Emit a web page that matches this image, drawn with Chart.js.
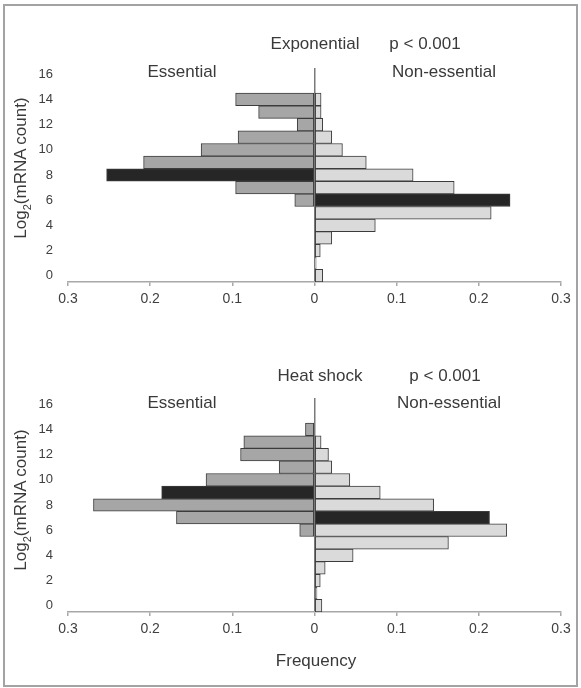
<!DOCTYPE html>
<html>
<head>
<meta charset="utf-8">
<script src="https://cdn.jsdelivr.net/npm/chart.js@4/dist/chart.umd.min.js"></script>
<style>
  body { margin: 0; background: #fff; font-family: "Liberation Sans", Arial, sans-serif; color: #3a3a3a; }
  #frame { position: absolute; left: 3px; top: 4px; width: 571px; height: 679px; border: 2px solid #a3a3a3; }
  canvas { position: absolute; left: 0; }
  .lbl { position: absolute; font-size: 17px; white-space: nowrap; transform: translate(-50%, -50%); }
  .ytitle { position: absolute; font-size: 17px; white-space: nowrap; transform: translate(-50%, -50%) rotate(-90deg); }
  .ytitle sub { font-size: 11px; }
</style>
</head>
<body>
<div id="frame"></div>
<canvas id="expChart" width="581" height="330" style="top:0"></canvas>
<canvas id="hsChart" width="581" height="330" style="top:330px"></canvas>

<div class="lbl" style="left:315px;top:44px">Exponential</div>
<div class="lbl" style="left:425px;top:44px">p &lt; 0.001</div>
<div class="lbl" style="left:182px;top:72px">Essential</div>
<div class="lbl" style="left:444px;top:72px">Non-essential</div>
<div class="ytitle" style="left:22px;top:168px">Log<sub>2</sub>(mRNA count)</div>

<div class="lbl" style="left:320px;top:376px">Heat shock</div>
<div class="lbl" style="left:445px;top:376px">p &lt; 0.001</div>
<div class="lbl" style="left:182px;top:403px">Essential</div>
<div class="lbl" style="left:449px;top:403px">Non-essential</div>
<div class="ytitle" style="left:22px;top:500px">Log<sub>2</sub>(mRNA count)</div>

<div class="lbl" style="left:316px;top:661px">Frequency</div>

<script>
// log2(mRNA count) bins, 0 at the bottom
const bins = ["0","1","2","3","4","5","6","7","8","9","10","11","12","13","14","15","16"];

// exponential growth: frequency per bin
const expEssential    = [null, null, null, null, null, null, 0.024, 0.096, 0.253, 0.208, 0.138, 0.093, 0.021, 0.068, 0.096, null, null];
const expNonEssential = [0.010, 0.002, 0.007, 0.021, 0.074, 0.215, 0.238, 0.170, 0.120, 0.063, 0.034, 0.021, 0.010, 0.008, 0.008, null, null];
const expEssentialMid = 8;
const expNonEssentialMid = 6;

// heat shock: frequency per bin
const hsEssential    = [null, null, null, null, null, null, 0.018, 0.168, 0.269, 0.186, 0.132, 0.043, 0.090, 0.086, 0.011, null, null];
const hsNonEssential = [0.009, 0.003, 0.007, 0.013, 0.047, 0.163, 0.234, 0.213, 0.145, 0.080, 0.043, 0.021, 0.017, 0.008, null, null, null];
const hsEssentialMid = 9;
const hsNonEssentialMid = 7;

const freqMin = -0.3;
const freqMax = 0.3;
const freqStep = 0.1;

function barColors(values, mid, fill) {
  return values.map(function (v, i) { return i === mid ? "#262626" : fill; });
}

function makeChart(id, essential, nonEssential, essMid, nonMid) {
  const ctx = document.getElementById(id).getContext("2d");
  return new Chart(ctx, {
    type: "bar",
    data: {
      labels: bins,
      datasets: [
        {
          label: "Essential",
          data: essential.map(function (v) { return v === null ? null : -v; }),
          backgroundColor: barColors(essential, essMid, "#a6a6a6"),
          borderColor: "#3c3c3c",
          borderWidth: 1,
          borderSkipped: false,
        },
        {
          label: "Non-essential",
          data: nonEssential,
          backgroundColor: barColors(nonEssential, nonMid, "#dadada"),
          borderColor: "#3c3c3c",
          borderWidth: 1,
          borderSkipped: false,
        },
      ],
    },
    options: {
      indexAxis: "y",
      responsive: false,
      animation: false,
      layout: { padding: { top: 68, left: 0, right: 20, bottom: 0 } },
      plugins: { legend: { display: false }, tooltip: { enabled: false } },
      datasets: { bar: { barPercentage: 1, categoryPercentage: 1 } },
      scales: {
        x: {
          stacked: true,
          min: freqMin,
          max: freqMax,
          afterFit: function (scale) { scale.height = 48; },
          ticks: {
            stepSize: freqStep,
            color: "#404040",
            font: { family: "Liberation Sans", size: 14 },
            padding: 5,
            callback: function (v) {
              const a = Math.round(Math.abs(v) * 10) / 10;
              return a === 0 ? "0" : a.toFixed(1);
            },
          },
          grid: {
            drawOnChartArea: true,
            color: function (c) { return c.tick && Math.abs(c.tick.value) < 1e-9 ? "#7a7a7a" : "rgba(0,0,0,0)"; },
            lineWidth: 1.5,
            tickColor: "#a8a8a8",
            tickLength: 4,
          },
          border: { display: true, color: "#a8a8a8", width: 1.5 },
        },
        y: {
          stacked: true,
          reverse: true,
          afterFit: function (scale) { scale.width = 68; },
          ticks: {
            autoSkip: false,
            color: "#404040",
            font: { family: "Liberation Sans", size: 13 },
            padding: 15,
            callback: function (v, i) { return i % 2 === 0 ? this.getLabelForValue(v) : ""; },
          },
          grid: { display: false, drawTicks: false },
          border: { display: false },
        },
      },
    },
  });
}

makeChart("expChart", expEssential, expNonEssential, expEssentialMid, expNonEssentialMid);
makeChart("hsChart", hsEssential, hsNonEssential, hsEssentialMid, hsNonEssentialMid);
</script>
</body>
</html>
